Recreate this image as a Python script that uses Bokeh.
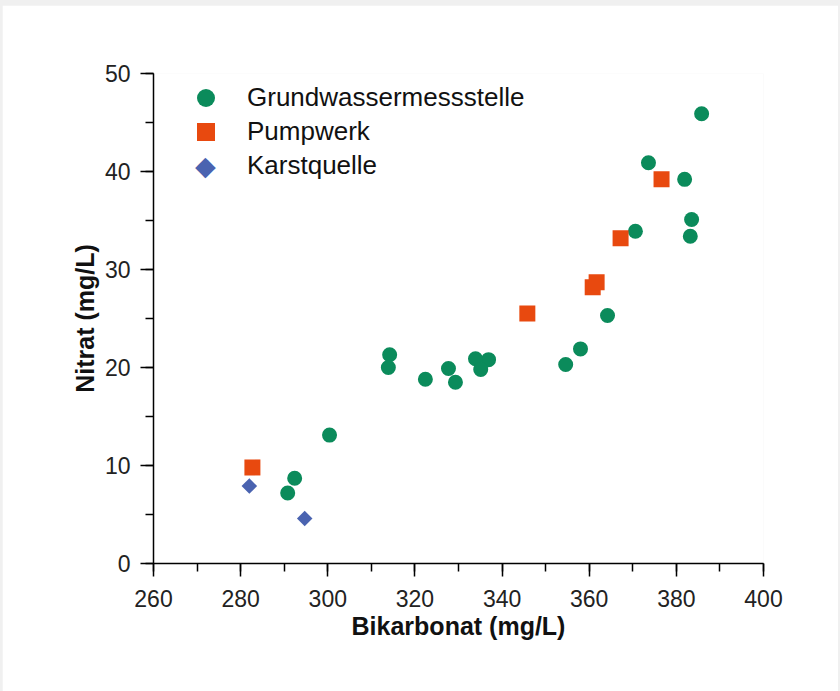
import numpy as np
from bokeh.plotting import figure
from bokeh.models import Range1d, SingleIntervalTicker, Legend, LegendItem, Label
from bokeh.embed import file_html
from bokeh.resources import INLINE

# Data
gw_bicarb = [385.8, 373.6, 381.9, 383.5, 383.2, 370.6, 364.2, 358.0, 354.6, 336.9,
             333.9, 335.1, 329.3, 327.7, 322.4, 314.2, 313.9, 300.4, 292.4, 290.8]
gw_nitrat = [45.9, 40.9, 39.2, 35.1, 33.4, 33.9, 25.3, 21.9, 20.3, 20.8,
             20.9, 19.8, 18.5, 19.9, 18.8, 21.3, 20.0, 13.1, 8.7, 7.2]

pw_bicarb = [282.7, 345.8, 360.8, 361.7, 367.2, 376.6]
pw_nitrat = [9.8, 25.5, 28.2, 28.7, 33.2, 39.2]

kq_bicarb = [282.0, 294.7]
kq_nitrat = [7.9, 4.6]

series_names = ["Grundwassermessstelle", "Pumpwerk", "Karstquelle"]
x_label = "Bikarbonat (mg/L)"
y_label = "Nitrat (mg/L)"

GREEN = "#0b8b5b"
ORANGE = "#e8490f"
BLUE = "#4a63b0"
FONT = "Liberation Sans"

p = figure(width=836, height=686, output_backend="svg", toolbar_location=None,
           x_range=Range1d(260, 400), y_range=Range1d(0, 50),
           min_border_left=151, min_border_right=75, min_border_top=68, min_border_bottom=128,
           margin=(5, 2, 0, 2))
p.outline_line_color = None
p.xgrid.visible = False
p.ygrid.visible = False
p.background_fill_color = "white"
p.border_fill_color = "white"

p.xaxis.ticker = SingleIntervalTicker(interval=20, num_minor_ticks=2)
p.yaxis.ticker = SingleIntervalTicker(interval=10, num_minor_ticks=2)
for ax in (p.xaxis, p.yaxis):
    ax.axis_line_color = "black"
    ax.axis_line_width = 1.5
    ax.major_tick_line_color = "black"
    ax.major_tick_line_width = 1.5
    ax.minor_tick_line_color = "black"
    ax.minor_tick_line_width = 1.5
    ax.major_tick_in = 0
    ax.major_tick_out = 13
    ax.minor_tick_in = 0
    ax.minor_tick_out = 8
    ax.major_label_text_font = FONT
    ax.major_label_text_font_size = "23px"
    ax.major_label_text_color = "#222222"
    ax.axis_label_text_font = FONT
    ax.axis_label_text_font_style = "bold"
    ax.axis_label_text_font_size = "25px"
    ax.axis_label_text_color = "#111111"

p.xaxis.axis_label = x_label
p.yaxis.axis_label = y_label
p.xaxis.major_label_standoff = 13
p.yaxis.major_label_standoff = 10
p.xaxis.axis_label_standoff = 2
p.yaxis.axis_label_standoff = 3

r_gw = p.scatter(gw_bicarb, gw_nitrat, marker="circle", size=15, fill_color=GREEN, line_color=None)
r_pw = p.scatter(pw_bicarb, pw_nitrat, marker="square", size=16, fill_color=ORANGE, line_color=None)
r_kq = p.scatter(kq_bicarb, kq_nitrat, marker="square", angle=np.pi / 4, size=11,
                 fill_color=BLUE, line_color=None)
# transparent legend-only glyph for the Karstquelle entry; its diamond symbol is drawn as a label
r_kq_leg = p.scatter(kq_bicarb, kq_nitrat, marker="diamond", size=18, fill_alpha=0,
                     line_alpha=0, visible=False)

legend_renderers = [r_gw, r_pw, r_kq_leg]
legend_bottoms = [443, 409, 375]
for name, rend, yb in zip(series_names, legend_renderers, legend_bottoms):
    lg = Legend(items=[LegendItem(label=name, renderers=[rend])], location=(30, yb))
    lg.border_line_color = None
    lg.background_fill_alpha = 0
    lg.inactive_fill_alpha = 0
    lg.padding = 0
    lg.margin = 0
    lg.glyph_width = 45
    lg.glyph_height = 45
    lg.label_height = 34
    lg.spacing = 0
    lg.label_standoff = 19
    lg.label_text_font = FONT
    lg.label_text_font_size = "26px"
    lg.label_text_color = "#111111"
    p.add_layout(lg)

diamond_symbol = Label(x=52, y=398, x_units="screen", y_units="screen", text="\u25c6",
                       text_color=BLUE, text_font="DejaVu Sans", text_font_size="27px",
                       text_align="center", text_baseline="middle")
p.add_layout(diamond_symbol)

html = file_html(p, INLINE)
html = html.replace("</head>", "<style>html,body{margin:0;background:#f0f0f0;}</style></head>", 1)
open("out.html", "w").write(html)
